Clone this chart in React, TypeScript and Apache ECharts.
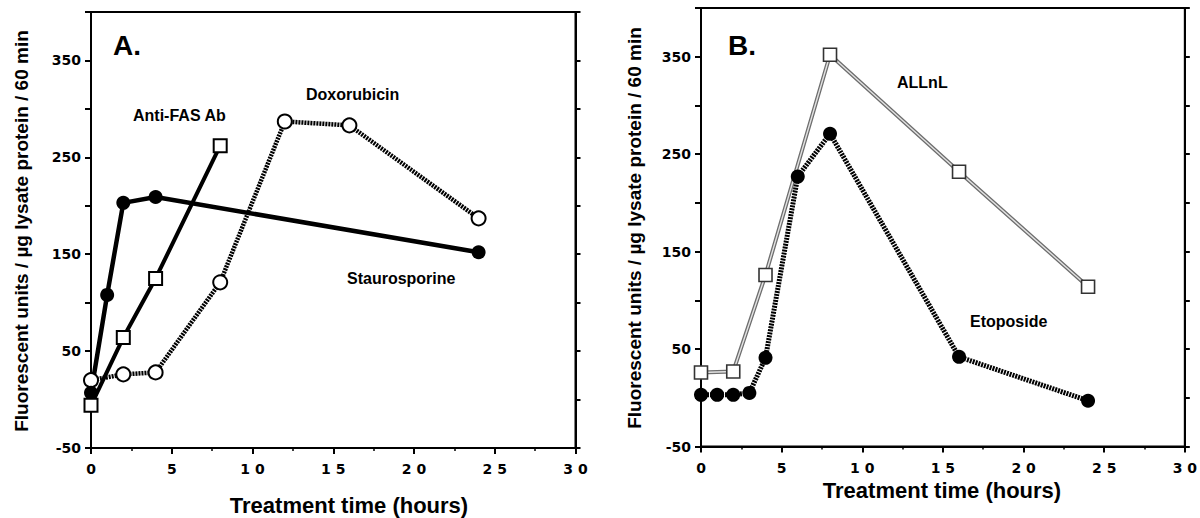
import React, { useEffect, useRef } from "react";
import * as echarts from "echarts";

// Panel A data
const timeStauro = [0, 1, 2, 4, 24];
const stauro = [7, 108, 203, 209, 152];
const timeFas = [0, 2, 4, 8];
const antiFas = [-6, 64, 125, 262];
const timeDoxo = [0, 2, 4, 8, 12, 16, 24];
const doxo = [20, 26, 28, 121, 287, 283, 187];

// Panel B data
const timeAllnl = [0, 2, 4, 8, 16, 24];
const allnl = [26, 27, 126, 352, 232, 114];
const timeEto = [0, 1, 2, 3, 4, 6, 8, 16, 24];
const eto = [3, 3, 3, 5, 41, 227, 271, 42, -3];

// Axis settings
const xMin = 0;
const xMax = 30;
const xStep = 5;
const yMin = -50;
const yMax = 400;
const yStep = 50;
const yLabelStep = 100;

const yTitle = "Fluorescent units / µg lysate protein / 60 min";
const xTitle = "Treatment time (hours)";

const pairs = (xs: number[], ys: number[]) => xs.map((x, i) => [x, ys[i]]);

const TICK_FONT = "DejaVu Sans";
const TEXT_FONT = '"Liberation Sans", Arial, Helvetica, sans-serif';

function xAxisFor(gridIndex: number) {
  return {
    type: "value",
    gridIndex,
    min: xMin,
    max: xMax,
    interval: xStep,
    axisLine: { show: true, onZero: false, lineStyle: { color: "#000", width: 2 } },
    axisTick: { show: true, inside: false, length: 6, lineStyle: { color: "#000", width: 2 } },
    minorTick: { show: true, splitNumber: 2, length: 3, lineStyle: { color: "#000", width: 1.5 } },
    splitLine: { show: false },
    minorSplitLine: { show: false },
    axisLabel: {
      margin: 14,
      color: "#000",
      fontFamily: TICK_FONT,
      fontWeight: "bold",
      fontSize: 14,
      formatter: (v: number) => String(v).split("").join(" "),
    },
  };
}

function yAxesFor(gridIndex: number) {
  const common = {
    type: "value",
    gridIndex,
    min: yMin,
    max: yMax,
    interval: yStep,
    splitLine: { show: false },
  };
  return [
    {
      ...common,
      position: "left",
      axisLine: { show: true, onZero: false, lineStyle: { color: "#000", width: 2 } },
      axisTick: { show: true, inside: false, length: 6, lineStyle: { color: "#000", width: 2 } },
      axisLabel: {
        margin: 10,
        color: "#000",
        fontFamily: TICK_FONT,
        fontWeight: "bold",
        fontSize: 14,
        formatter: (v: number) =>
          (v - yMin) % yLabelStep === 0 && v < yMax ? String(v) : "",
      },
    },
    {
      ...common,
      position: "right",
      axisLine: { show: true, onZero: false, lineStyle: { color: "#000", width: 2 } },
      axisTick: { show: true, inside: false, length: 5, lineStyle: { color: "#000", width: 2 } },
      axisLabel: { show: false },
    },
  ];
}

const hatched = (width: number) => ({ color: "#000", width, type: [2, 1] as any });

export default function App() {
  const ref = useRef<HTMLDivElement>(null);

  useEffect(() => {
    if (!ref.current) return;
    const chart = echarts.init(ref.current, undefined, { renderer: "svg" });
    const txt = (text: string, x: number, y: number, size: number, extra: any = {}) => ({
      type: "text",
      x,
      y,
      z: 100,
      ...extra,
      style: {
        text,
        fill: "#000",
        font: `bold ${size}px ${TEXT_FONT}`,
        align: extra.align || "left",
        verticalAlign: "middle",
      },
    });

    chart.setOption({
      animation: false,
      backgroundColor: "#fff",
      grid: [
        { left: 91, right: 624.5, top: 12, bottom: 70, show: true, borderColor: "#000", borderWidth: 2 },
        { left: 701, right: 15, top: 8, bottom: 71.5, show: true, borderColor: "#000", borderWidth: 2 },
      ],
      xAxis: [xAxisFor(0), xAxisFor(1)],
      yAxis: [...yAxesFor(0), ...yAxesFor(1)],
      series: [
        {
          name: "Doxorubicin",
          type: "line",
          xAxisIndex: 0,
          yAxisIndex: 0,
          data: pairs(timeDoxo, doxo),
          lineStyle: hatched(4.5),
          symbol: "circle",
          symbolSize: 14,
          itemStyle: { color: "#fff", borderColor: "#000", borderWidth: 2 },
        },
        {
          name: "Staurosporine",
          type: "line",
          xAxisIndex: 0,
          yAxisIndex: 0,
          data: pairs(timeStauro, stauro),
          lineStyle: { color: "#000", width: 4.5 },
          symbol: "circle",
          symbolSize: 14,
          itemStyle: { color: "#000", borderColor: "#000", borderWidth: 0 },
        },
        {
          name: "Anti-FAS Ab",
          type: "line",
          xAxisIndex: 0,
          yAxisIndex: 0,
          data: pairs(timeFas, antiFas),
          lineStyle: { color: "#000", width: 4 },
          symbol: "rect",
          symbolSize: 13,
          itemStyle: { color: "#fff", borderColor: "#000", borderWidth: 2 },
        },
        {
          name: "ALLnL",
          type: "line",
          xAxisIndex: 1,
          yAxisIndex: 2,
          data: pairs(timeAllnl, allnl),
          lineStyle: { color: "#6e6e6e", width: 4 },
          symbol: "none",
          z: 2,
        },
        {
          name: "ALLnL inner",
          type: "line",
          xAxisIndex: 1,
          yAxisIndex: 2,
          data: pairs(timeAllnl, allnl),
          lineStyle: { color: "#e2e2e2", width: 1.4 },
          symbol: "none",
          silent: true,
          z: 2,
        },
        {
          name: "Etoposide",
          type: "line",
          xAxisIndex: 1,
          yAxisIndex: 2,
          data: pairs(timeEto, eto),
          lineStyle: hatched(5),
          symbol: "circle",
          symbolSize: 14,
          itemStyle: { color: "#000", borderColor: "#000", borderWidth: 0 },
          z: 3,
        },
        {
          name: "ALLnL markers",
          type: "scatter",
          xAxisIndex: 1,
          yAxisIndex: 2,
          data: pairs(timeAllnl, allnl),
          symbol: "rect",
          symbolSize: 13,
          itemStyle: { color: "#fff", borderColor: "#333", borderWidth: 1.6, opacity: 1 },
          z: 4,
        },
      ],
      graphic: [
        txt("A.", 113, 45, 28),
        txt("B.", 728, 45, 28),
        txt("Anti-FAS Ab", 133, 115, 16),
        txt("Doxorubicin", 306, 94, 16),
        txt("Staurosporine", 347, 278, 16),
        txt("ALLnL", 897, 82, 16),
        txt("Etoposide", 970, 321, 16),
        txt(yTitle, 21, 231, 19, { rotation: Math.PI / 2, align: "center" }),
        txt(yTitle, 634, 228, 19, { rotation: Math.PI / 2, align: "center" }),
        txt(xTitle, 349, 505, 22, { align: "center" }),
        txt(xTitle, 942, 490, 22, { align: "center" }),
      ],
    });
    return () => chart.dispose();
  }, []);

  return (
    <div
      ref={ref}
      style={{ position: "absolute", left: 0, top: 0, width: 1200, height: 518 }}
    />
  );
}
